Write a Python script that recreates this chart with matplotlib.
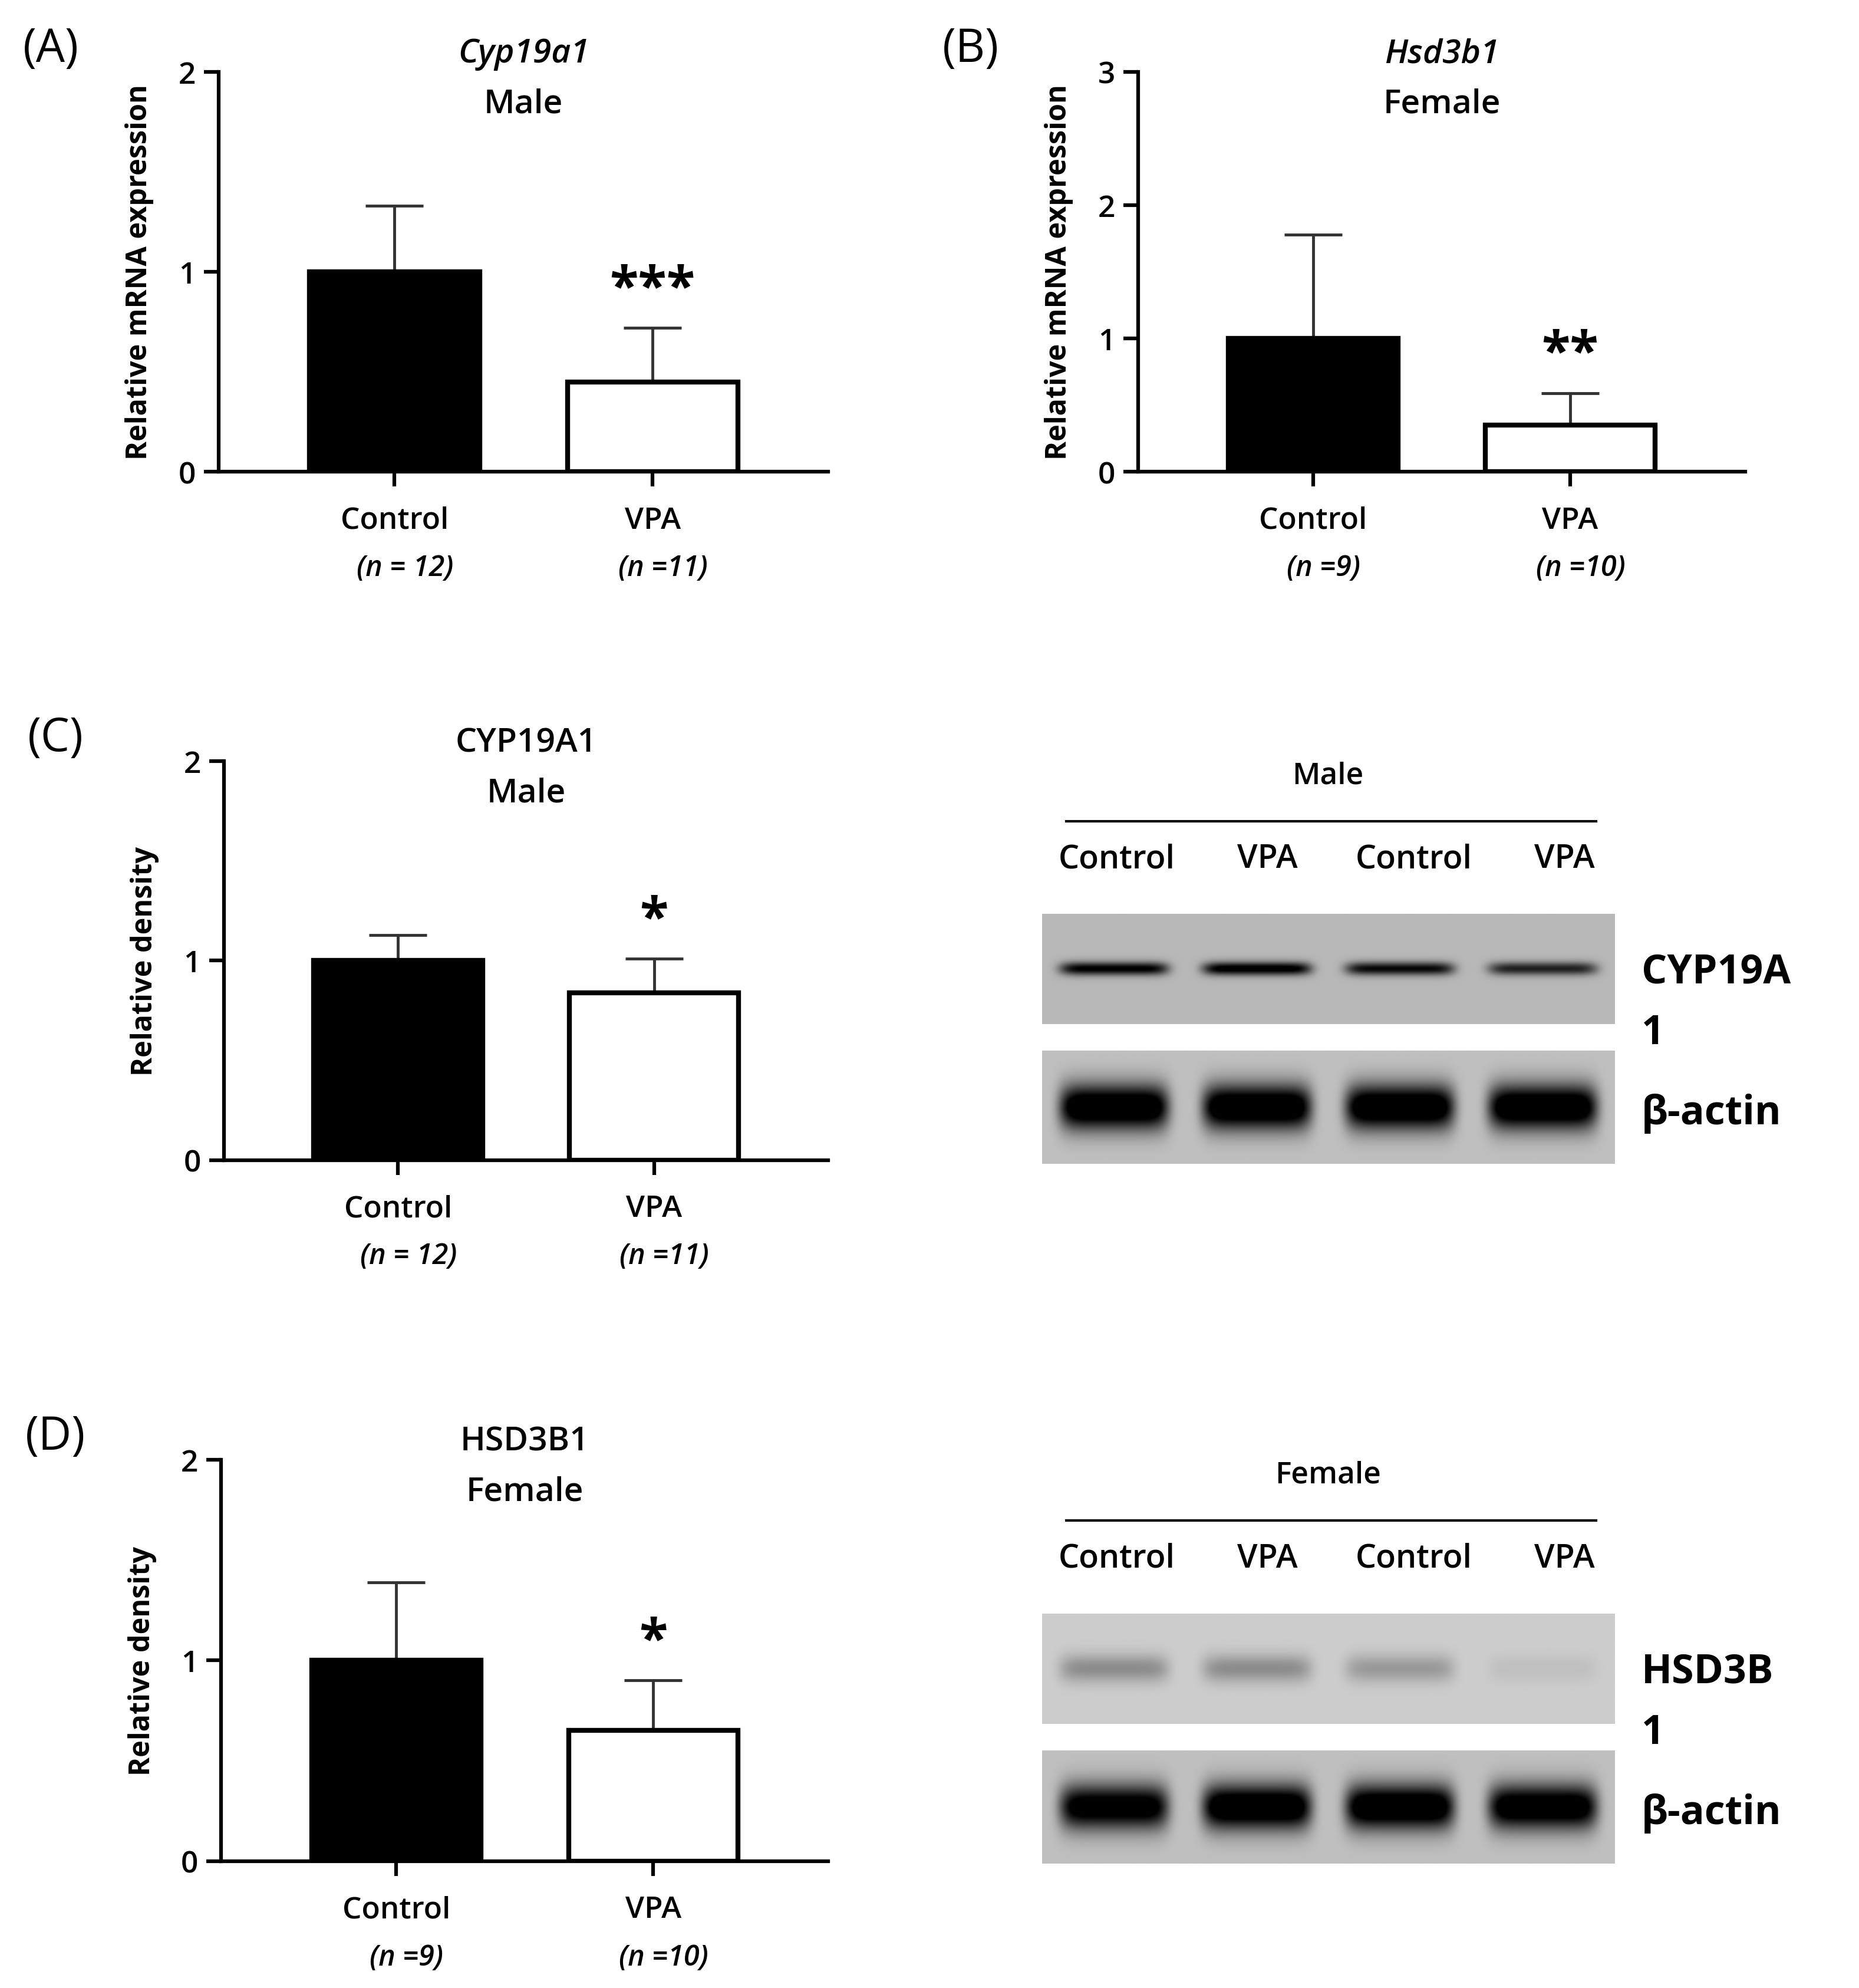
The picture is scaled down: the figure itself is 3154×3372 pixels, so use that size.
import numpy as np
import matplotlib
matplotlib.use("Agg")
import matplotlib.pyplot as plt

plt.rcParams['font.family'] = ['Open Sans', 'DejaVu Sans']

W, H = 1470.0, 1566.0
groups = ["Control", "VPA"]
A_mean = [1.0, 0.45]; A_err = [0.33, 0.27]; A_n = ["(n = 12)", "(n =11)"]
B_mean = [1.0, 0.35]; B_err = [0.78, 0.24]; B_n = ["(n =9)", "(n =10)"]
C_mean = [1.0, 0.84]; C_err = [0.13, 0.17]; C_n = ["(n = 12)", "(n =11)"]
D_mean = [1.0, 0.65]; D_err = [0.39, 0.25]; D_n = ["(n =9)", "(n =10)"]
lanes = ["Control", "VPA", "Control", "VPA"]
cyp_band = [0.75, 0.8, 0.7, 0.6]
cyp_actin = [1.0, 1.0, 1.0, 1.0]
hsd_band = [0.25, 0.25, 0.2, 0.05]
hsd_actin = [0.9, 1.0, 1.0, 0.95]

fig = plt.figure(figsize=(31.54, 33.73), dpi=100)

def fx(x): return x / W
def fy(y): return 1 - y / H

def bar_panel(l, r, t, b, means, errs, ymax, ns, stars, title1, title2, ylabel, letter, italic_title):
    ax = fig.add_axes([fx(l), fy(b), fx(r) - fx(l), fy(t) - fy(b)])
    x = np.arange(2)
    ax.bar(x, means, width=0.66, color=["black", "white"], edgecolor="black", linewidth=6, zorder=3)
    ax.errorbar(x, means, yerr=[[0, 0], errs], fmt="none", ecolor="#333333", elinewidth=3.5, capsize=35, capthick=3.5, zorder=2)
    ax.set_xlim(-0.681, 1.681)
    ax.set_ylim(0, ymax)
    ax.set_yticks(range(0, ymax + 1))
    ax.set_yticklabels([str(i) for i in range(ymax + 1)], fontsize=37, fontweight="semibold")
    ax.set_xticks(x)
    ax.set_xticklabels([])
    for s in ["top", "right"]:
        ax.spines[s].set_visible(False)
    for s in ["left", "bottom"]:
        ax.spines[s].set_linewidth(4.5)
    ax.tick_params(width=4.5, length=18, pad=10)
    for i, (g, n) in enumerate(zip(groups, ns)):
        ax.text(i, -0.085 * ymax, g, ha="center", va="top", fontsize=37, fontweight="semibold")
        ax.text(i + 0.04, -0.205 * ymax, n, ha="center", va="top", fontsize=35, style="italic", fontweight="semibold")
    ax.text(1, means[1] + errs[1] + 0.03 * ymax, stars, ha="center", va="bottom", fontsize=64, fontweight="bold")
    ax.text(0.5, 1.045, title1, ha="center", va="center", fontsize=41, transform=ax.transAxes,
            style="italic" if italic_title else "normal", fontweight="semibold")
    ax.text(0.5, 0.92, title2, ha="center", va="center", fontsize=41, transform=ax.transAxes, fontweight="semibold")
    ax.set_ylabel(ylabel, fontsize=35, fontweight="bold", labelpad=30)
    fig.text(fx(l - 155), fy(t - 18), letter, fontsize=56, va="center", ha="left")
    return ax

bar_panel(173, 655, 57, 372, A_mean, A_err, 2, A_n, "***", "Cyp19a1", "Male", "Relative mRNA expression", "(A)", True)
bar_panel(900, 1380, 57, 372, B_mean, B_err, 3, B_n, "**", "Hsd3b1", "Female", "Relative mRNA expression", "(B)", True)
bar_panel(177, 655, 600, 914, C_mean, C_err, 2, C_n, "*", "CYP19A1", "Male", "Relative density", "(C)", False)
bar_panel(175, 655, 1150, 1466, D_mean, D_err, 2, D_n, "*", "HSD3B1", "Female", "Relative density", "(D)", False)

def blot(l, r, t, b, intens, thick, bg):
    ax = fig.add_axes([fx(l), fy(b), fx(r) - fx(l), fy(t) - fy(b)])
    nx, ny = 400, 80
    xs = np.linspace(0, 4, nx)
    ys = np.linspace(-1, 1, ny)
    X, Y = np.meshgrid(xs, ys)
    img = np.zeros_like(X)
    for i, v in enumerate(intens):
        cx = i + 0.5
        prof_x = np.exp(-((X - cx) / 0.38) ** 8)
        prof_y = np.exp(-(Y / thick) ** 2)
        img += v * prof_x * prof_y
    img = np.clip(bg - img, 0, 1)
    ax.imshow(img, cmap="gray", vmin=0, vmax=1, extent=[0, 4, -1, 1], aspect="auto")
    ax.set_axis_off()
    return ax

def blot_group(top, label, band, actin, band_name, band_thick, bg1):
    fig.text(fx(1050), fy(top), label, ha="center", va="center", fontsize=37, fontweight="semibold")
    fig.add_artist(plt.Line2D([fx(843), fx(1262)], [fy(top + 36), fy(top + 36)], color="black", lw=3))
    for xx, lab in zip([883, 1002, 1118, 1237], lanes):
        fig.text(fx(xx), fy(top + 66), lab, ha="center", va="center", fontsize=40, fontweight="semibold")
    blot(824, 1277, top + 109, top + 196, band, band_thick, bg1)
    blot(824, 1277, top + 217, top + 306, actin, 0.4, 0.75)
    fig.text(fx(1298), fy(top + 155), band_name[0], ha="left", va="center", fontsize=49, fontweight="bold")
    fig.text(fx(1298), fy(top + 203), band_name[1], ha="left", va="center", fontsize=49, fontweight="bold")
    fig.text(fx(1298), fy(top + 266), "β-actin", ha="left", va="center", fontsize=49, fontweight="bold")

blot_group(611, "Male", cyp_band, cyp_actin, ["CYP19A", "1"], 0.12, 0.72)
blot_group(1162, "Female", hsd_band, hsd_actin, ["HSD3B", "1"], 0.25, 0.8)

fig.savefig("out.png", dpi=100, facecolor="white")
